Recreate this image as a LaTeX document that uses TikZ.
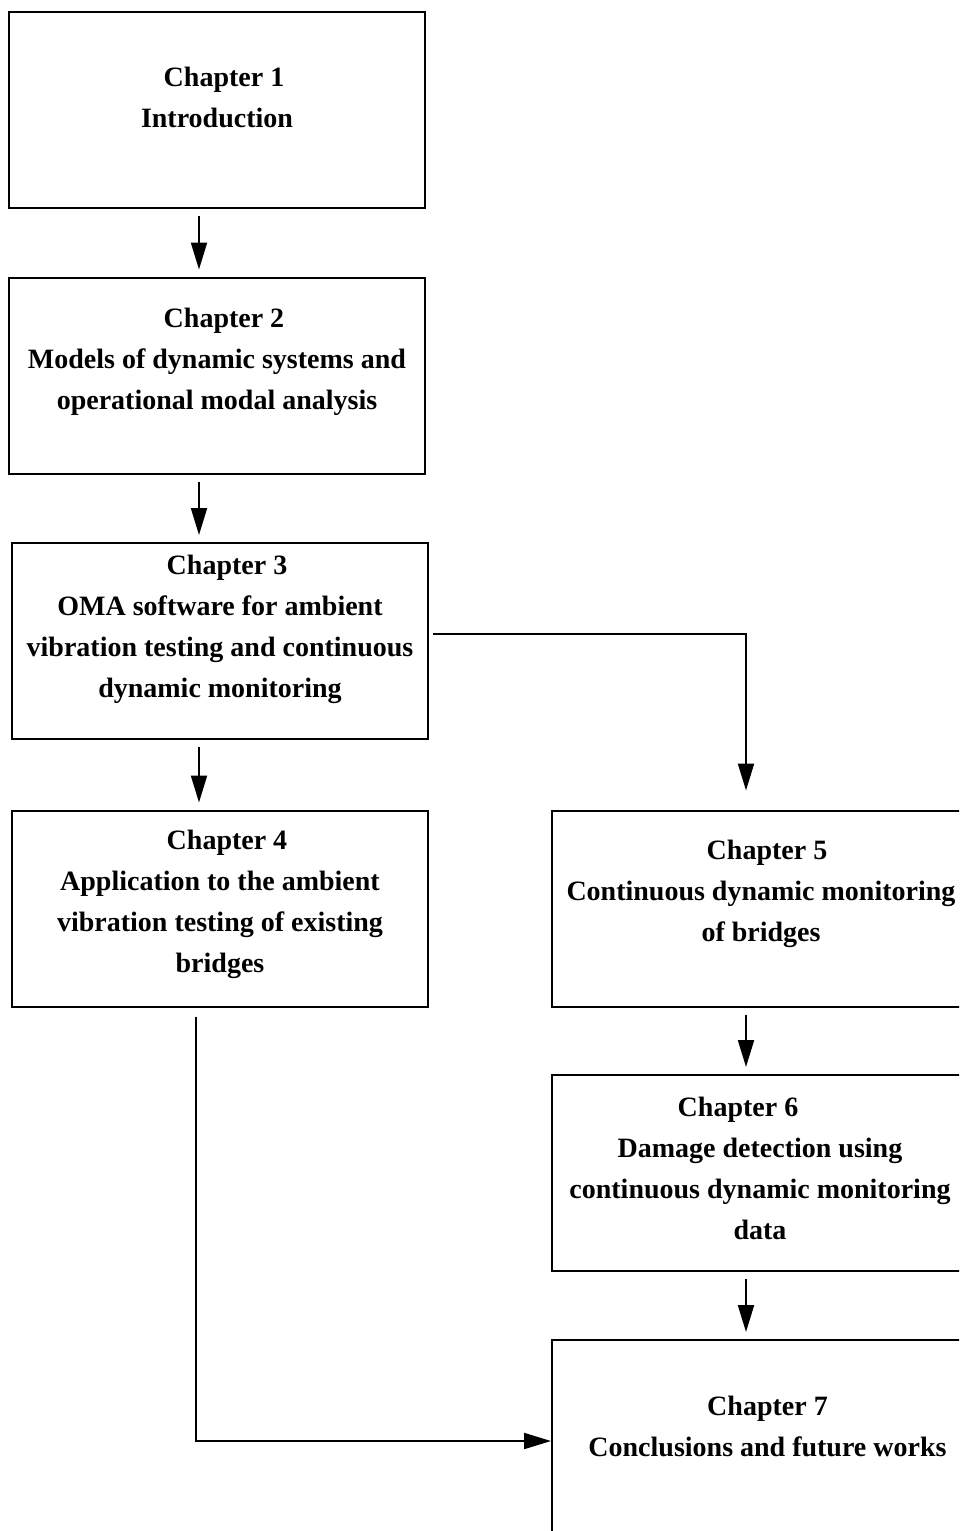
\documentclass[tikz,border=0pt]{standalone}
\usepackage{fontspec}
\setmainfont{Liberation Serif}
\usetikzlibrary{arrows.meta}

\tikzset{
    chapbox/.style={draw, line width=1pt, minimum width=208pt, minimum height=98pt, inner sep=0pt},
    chaptext/.style={align=center, inner sep=0pt, font=\fontsize{14}{20.5}\selectfont\bfseries},
    flow/.style={line width=1pt, -{Triangle[length=13.5pt,width=8pt]}}
}

\begin{document}
\begin{tikzpicture}[x=0.5pt, y=-0.5pt]
    \clip (0,0) rectangle (959,1531);

    % chapter boxes
    \node[chapbox] (b1) at (216.5, 109.5) {};
    \node[chapbox] (b2) at (217, 375.5) {};
    \node[chapbox] (b3) at (220, 641) {};
    \node[chapbox] (b4) at (220, 908.5) {};
    \node[chapbox] (b5) at (760, 908.5) {};
    \node[chapbox] (b6) at (760, 1173) {};
    \node[chapbox] (b7) at (760, 1438) {};

    % chapter titles
    \node[chaptext] (t1) at (217, 97.5) {\hspace*{7pt}Chapter 1\\Introduction};
    \node[chaptext] (t2) at (217, 362) {\hspace*{7pt}Chapter 2\\Models of dynamic systems and\\operational modal analysis};
    \node[chaptext] (t3) at (220, 629) {\hspace*{7pt}Chapter 3\\OMA software for ambient\\vibration testing and continuous\\dynamic monitoring};
    \node[chaptext] (t4) at (220, 904.5) {\hspace*{7pt}Chapter 4\\Application to the ambient\\vibration testing of existing\\bridges};
    \node[chaptext] (t5) at (761, 894) {\hspace*{6pt}Chapter 5\\Continuous dynamic monitoring\\of bridges};
    \node[chaptext] (t6) at (760, 1168.5) {Chapter 6\hspace*{22pt}\\Damage detection using\\continuous dynamic monitoring\\data};
    \node[chaptext] (t7) at (767.5, 1426) {Chapter 7\\Conclusions and future works};

    % arrow columns
    \coordinate (lx) at (199, 0);
    \coordinate (rx) at (746, 634);
    \coordinate (bx) at (196, 1441);

    \draw[flow, shorten <=3.5pt, shorten >=3.5pt] (b1.south -| lx) -- (b2.north -| lx);
    \draw[flow, shorten <=3.5pt, shorten >=3.5pt] (b2.south -| lx) -- (b3.north -| lx);
    \draw[flow, shorten <=3.5pt, shorten >=3.5pt] (b3.south -| lx) -- (b4.north -| lx);
    \draw[flow, shorten >=9.5pt] ([xshift=2pt]b3.east |- rx) -- (rx) -- (b5.north -| rx);
    \draw[flow, shorten <=3.5pt, shorten >=3.5pt] (b5.south -| rx) -- (b6.north -| rx);
    \draw[flow, shorten <=3.5pt, shorten >=3.5pt] (b6.south -| rx) -- (b7.north -| rx);
    \draw[flow, shorten <=4.5pt] (b4.south -| bx) -- (bx) -- (b7.west |- bx);
\end{tikzpicture}
\end{document}
